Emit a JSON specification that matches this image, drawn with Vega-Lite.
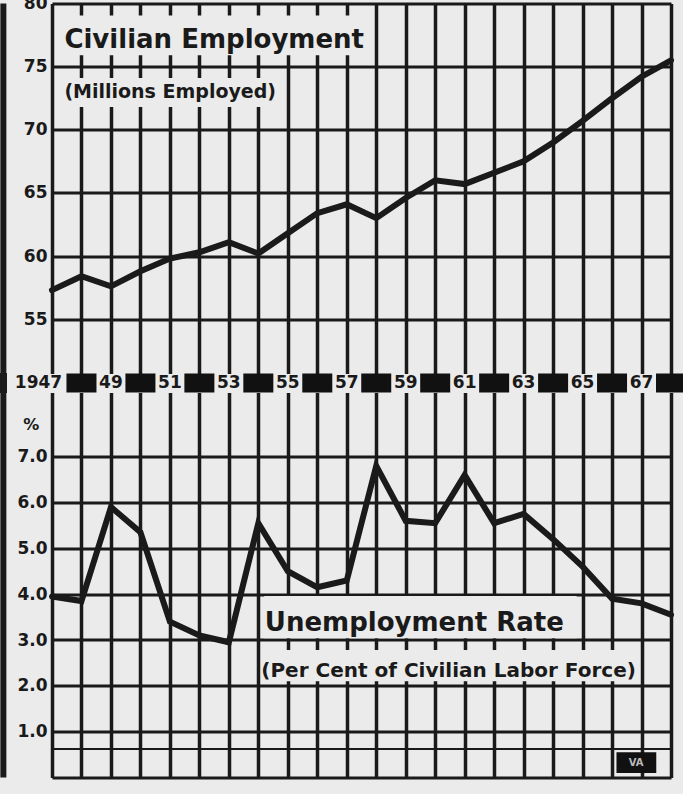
{
  "$schema": "https://vega.github.io/schema/vega-lite/v6.json",
  "autosize": {"type": "pad"},
  "padding": {"left": 0, "top": -5.5, "right": 0, "bottom": 14},
  "background": "#ebebeb",
  "spacing": 0,
  "bounds": "flush",
  "config": {
    "view": {"stroke": null},
    "axis": {
      "gridColor": "#1a1a1a", "gridOpacity": 1, "gridWidth": 3,
      "domain": false, "ticks": false,
      "labelFont": "DejaVu Sans", "labelFontWeight": "bold", "labelFontSize": 17,
      "labelColor": "#1a1a1a", "labelPadding": 5
    }
  },
  "datasets": {
    "emp": [
      {"year": 1947, "value": 57.3}, {"year": 1948, "value": 58.4}, {"year": 1949, "value": 57.6},
      {"year": 1950, "value": 58.8}, {"year": 1951, "value": 59.8}, {"year": 1952, "value": 60.3},
      {"year": 1953, "value": 61.1}, {"year": 1954, "value": 60.2}, {"year": 1955, "value": 61.8},
      {"year": 1956, "value": 63.4}, {"year": 1957, "value": 64.1}, {"year": 1958, "value": 63.0},
      {"year": 1959, "value": 64.6}, {"year": 1960, "value": 66.0}, {"year": 1961, "value": 65.7},
      {"year": 1962, "value": 66.6}, {"year": 1963, "value": 67.5}, {"year": 1964, "value": 69.0},
      {"year": 1965, "value": 70.7}, {"year": 1966, "value": 72.5}, {"year": 1967, "value": 74.2},
      {"year": 1968, "value": 75.5}
    ],
    "unemp": [
      {"year": 1947, "rate": 3.95}, {"year": 1948, "rate": 3.85}, {"year": 1949, "rate": 5.9},
      {"year": 1950, "rate": 5.35}, {"year": 1951, "rate": 3.4}, {"year": 1952, "rate": 3.1},
      {"year": 1953, "rate": 2.95}, {"year": 1954, "rate": 5.55}, {"year": 1955, "rate": 4.5},
      {"year": 1956, "rate": 4.15}, {"year": 1957, "rate": 4.3}, {"year": 1958, "rate": 6.8},
      {"year": 1959, "rate": 5.6}, {"year": 1960, "rate": 5.55}, {"year": 1961, "rate": 6.6},
      {"year": 1962, "rate": 5.55}, {"year": 1963, "rate": 5.75}, {"year": 1964, "rate": 5.2},
      {"year": 1965, "rate": 4.6}, {"year": 1966, "rate": 3.9}, {"year": 1967, "rate": 3.8},
      {"year": 1968, "rate": 3.55}
    ],
    "years": [
      {"year": 1947, "label": "1947", "cell": "white"}, {"year": 1948, "label": "", "cell": "black"},
      {"year": 1949, "label": "49", "cell": "white"}, {"year": 1950, "label": "", "cell": "black"},
      {"year": 1951, "label": "51", "cell": "white"}, {"year": 1952, "label": "", "cell": "black"},
      {"year": 1953, "label": "53", "cell": "white"}, {"year": 1954, "label": "", "cell": "black"},
      {"year": 1955, "label": "55", "cell": "white"}, {"year": 1956, "label": "", "cell": "black"},
      {"year": 1957, "label": "57", "cell": "white"}, {"year": 1958, "label": "", "cell": "black"},
      {"year": 1959, "label": "59", "cell": "white"}, {"year": 1960, "label": "", "cell": "black"},
      {"year": 1961, "label": "61", "cell": "white"}, {"year": 1962, "label": "", "cell": "black"},
      {"year": 1963, "label": "63", "cell": "white"}, {"year": 1964, "label": "", "cell": "black"},
      {"year": 1965, "label": "65", "cell": "white"}, {"year": 1966, "label": "", "cell": "black"},
      {"year": 1967, "label": "67", "cell": "white"}, {"year": 1968, "label": "", "cell": "black"}
    ]
  },
  "vconcat": [
    {
      "width": 619, "height": 370,
      "layer": [
        {
          "data": {"name": "emp"},
          "mark": {"type": "line", "color": "#1a1a1a", "strokeWidth": 6, "strokeCap": "round", "strokeJoin": "miter"},
          "encoding": {
            "x": {"field": "year", "type": "quantitative",
                  "scale": {"domain": [1947, 1968], "nice": false, "zero": false},
                  "axis": {"values": [1947,1948,1949,1950,1951,1952,1953,1954,1955,1956,1957,1958,1959,1960,1961,1962,1963,1964,1965,1966,1967,1968], "tickCount": 40, "labels": false, "grid": true, "title": null, "gridWidth": 3.5}},
            "y": {"field": "value", "type": "quantitative",
                  "scale": {"domain": [50.7, 80], "nice": false, "zero": false},
                  "axis": {"values": [55, 60, 65, 70, 75, 80], "grid": true, "title": null}}
          }
        },
        {
          "data": {"values": [{}]},
          "mark": {"type": "rect", "fill": "#ebebeb"},
          "encoding": {
            "x": {"datum": 1947.12, "type": "quantitative"}, "x2": {"datum": 1957.6},
            "y": {"datum": 79.05, "type": "quantitative"}, "y2": {"datum": 75.9}
          }
        },
        {
          "data": {"values": [{}]},
          "mark": {"type": "rect", "fill": "#ebebeb"},
          "encoding": {
            "x": {"datum": 1947.12, "type": "quantitative"}, "x2": {"datum": 1954.9},
            "y": {"datum": 74.1, "type": "quantitative"}, "y2": {"datum": 71.8}
          }
        },
        {
          "data": {"values": [{}]},
          "mark": {"type": "text", "text": "Civilian Employment", "font": "DejaVu Sans", "fontWeight": "bold", "fontSize": 26, "align": "left", "baseline": "alphabetic", "color": "#1a1a1a"},
          "encoding": {
            "x": {"datum": 1947.42, "type": "quantitative"},
            "y": {"datum": 76.5, "type": "quantitative"}
          }
        },
        {
          "data": {"values": [{}]},
          "mark": {"type": "text", "text": "(Millions Employed)", "font": "DejaVu Sans", "fontWeight": "bold", "fontSize": 19, "align": "left", "baseline": "alphabetic", "color": "#1a1a1a"},
          "encoding": {
            "x": {"datum": 1947.42, "type": "quantitative"},
            "y": {"datum": 72.55, "type": "quantitative"}
          }
        },
        {
          "data": {"values": [{}]},
          "mark": {"type": "rule", "color": "#1a1a1a", "strokeWidth": 6},
          "encoding": {"x": {"datum": 1945.35, "type": "quantitative"}}
        }
      ]
    },
    {
      "width": 619, "height": 19,
      "data": {"name": "years"},
      "layer": [
        {
          "transform": [{"filter": "datum.cell == 'black'"}],
          "mark": {"type": "tick", "color": "#111111", "thickness": 30, "size": 19, "opacity": 1},
          "encoding": {
            "x": {"field": "year", "type": "quantitative", "scale": {"domain": [1947, 1968], "nice": false, "zero": false}, "axis": null}
          }
        },
        {
          "transform": [{"filter": "datum.cell == 'white' && datum.year > 1947"}],
          "mark": {"type": "text", "font": "DejaVu Sans", "fontWeight": "bold", "fontSize": 17, "baseline": "middle", "align": "center", "color": "#1a1a1a"},
          "encoding": {
            "x": {"field": "year", "type": "quantitative"},
            "text": {"field": "label"}
          }
        },
        {
          "transform": [{"filter": "datum.year == 1947"}],
          "mark": {"type": "text", "font": "DejaVu Sans", "fontWeight": "bold", "fontSize": 17, "baseline": "middle", "align": "center", "dx": -13.5, "color": "#1a1a1a"},
          "encoding": {
            "x": {"field": "year", "type": "quantitative"},
            "text": {"field": "label"}
          }
        },
        {
          "mark": {"type": "rule", "color": "#1a1a1a", "strokeWidth": 6},
          "encoding": {"x": {"datum": 1945.35, "type": "quantitative"}}
        }
      ]
    },
    {
      "width": 619, "height": 385,
      "layer": [
        {
          "data": {"values": [{}]},
          "mark": {"type": "rule", "color": "#1a1a1a", "strokeWidth": 2},
          "encoding": {"y": {"datum": 0.62, "type": "quantitative"}}
        },
        {
          "data": {"name": "unemp"},
          "mark": {"type": "line", "color": "#1a1a1a", "strokeWidth": 6, "strokeCap": "round", "strokeJoin": "miter"},
          "encoding": {
            "x": {"field": "year", "type": "quantitative",
                  "scale": {"domain": [1947, 1968], "nice": false, "zero": false},
                  "axis": {"values": [1947,1948,1949,1950,1951,1952,1953,1954,1955,1956,1957,1958,1959,1960,1961,1962,1963,1964,1965,1966,1967,1968], "tickCount": 40, "labels": false, "grid": true, "title": null, "gridWidth": 3.5}},
            "y": {"field": "rate", "type": "quantitative",
                  "scale": {"domain": [0, 8.4], "nice": false},
                  "axis": {"values": [0, 1, 2, 3, 4, 5, 6, 7], "grid": true, "title": null,
                           "labelExpr": "datum.value == 0 ? '' : format(datum.value, '.1f')"}}
          }
        },
        {
          "data": {"values": [{}]},
          "mark": {"type": "rect", "fill": "#ebebeb"},
          "encoding": {
            "x": {"datum": 1954.2, "type": "quantitative"}, "x2": {"datum": 1964.8},
            "y": {"datum": 3.96, "type": "quantitative"}, "y2": {"datum": 3.04}
          }
        },
        {
          "data": {"values": [{}]},
          "mark": {"type": "rect", "fill": "#ebebeb"},
          "encoding": {
            "x": {"datum": 1954.2, "type": "quantitative"}, "x2": {"datum": 1966.95},
            "y": {"datum": 2.78, "type": "quantitative"}, "y2": {"datum": 2.1}
          }
        },
        {
          "data": {"values": [{}]},
          "mark": {"type": "text", "text": "Unemployment Rate", "font": "DejaVu Sans", "fontWeight": "bold", "fontSize": 26, "align": "left", "baseline": "alphabetic", "color": "#1a1a1a"},
          "encoding": {
            "x": {"datum": 1954.22, "type": "quantitative"},
            "y": {"datum": 3.2, "type": "quantitative"}
          }
        },
        {
          "data": {"values": [{}]},
          "mark": {"type": "text", "text": "(Per Cent of Civilian Labor Force)", "font": "DejaVu Sans", "fontWeight": "bold", "fontSize": 20, "align": "left", "baseline": "alphabetic", "color": "#1a1a1a"},
          "encoding": {
            "x": {"datum": 1954.1, "type": "quantitative"},
            "y": {"datum": 2.2, "type": "quantitative"}
          }
        },
        {
          "data": {"values": [{}]},
          "mark": {"type": "text", "text": "%", "font": "DejaVu Sans", "fontWeight": "bold", "fontSize": 16, "align": "center", "baseline": "middle", "color": "#1a1a1a"},
          "encoding": {
            "x": {"datum": 1946.3, "type": "quantitative"},
            "y": {"datum": 7.7, "type": "quantitative"}
          }
        },
        {
          "data": {"values": [{}]},
          "mark": {"type": "rect", "fill": "#111111"},
          "encoding": {
            "x": {"datum": 1966.15, "type": "quantitative"}, "x2": {"datum": 1967.5},
            "y": {"datum": 0.55, "type": "quantitative"}, "y2": {"datum": 0.1}
          }
        },
        {
          "data": {"values": [{}]},
          "mark": {"type": "text", "text": "VA", "font": "DejaVu Sans", "fontWeight": "bold", "fontSize": 10, "align": "center", "baseline": "middle", "color": "#bbbbbb"},
          "encoding": {
            "x": {"datum": 1966.82, "type": "quantitative"},
            "y": {"datum": 0.32, "type": "quantitative"}
          }
        },
        {
          "data": {"values": [{}]},
          "mark": {"type": "rule", "color": "#1a1a1a", "strokeWidth": 6},
          "encoding": {"x": {"datum": 1945.35, "type": "quantitative"}}
        }
      ]
    }
  ]
}
